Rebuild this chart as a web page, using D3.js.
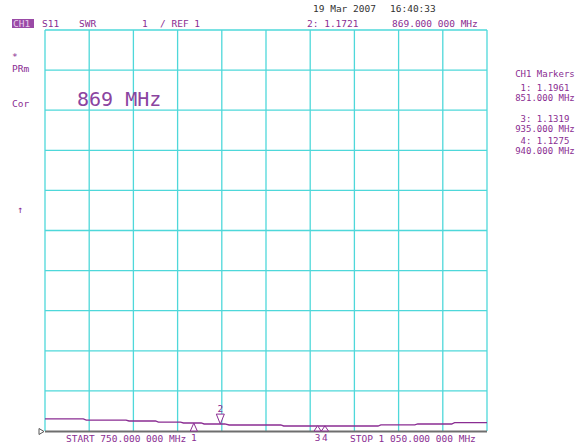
<!DOCTYPE html>
<html lang="en">
	<head>
		<meta charset="utf-8">
		<title>S11 SWR</title>
		<script type="text/javascript" src="https://cdn.jsdelivr.net/npm/d3@7"></script>
		<style type="text/css">
			body { margin: 0; background: #fff; }
			text { font-family: "DejaVu Sans Mono", monospace; }
		</style>
	</head>
	<body>
		<script type="text/javascript">

			//Width and height
			var w = 582;
			var h = 447;

			//Trace data (frequency in MHz, SWR)
			var freq = [750, 776, 778, 805, 807, 825, 827, 842, 844, 856, 858, 872, 875, 910, 912, 976, 978, 1001, 1003, 1026, 1028, 1050];
			var swr = [1.30, 1.30, 1.27, 1.27, 1.25, 1.25, 1.22, 1.22, 1.20, 1.20, 1.175, 1.175, 1.15, 1.15, 1.125, 1.125, 1.155, 1.155, 1.175, 1.175, 1.21, 1.21];

			//Markers
			var markerNum = [1, 2, 3, 4];
			var markerFreq = [851, 869, 935, 940];
			var markerVal = [1.1961, 1.1721, 1.1319, 1.1275];
			var activeMarker = 2;

			//Grid ticks
			var xTicks = [750, 780, 810, 840, 870, 900, 930, 960, 990, 1020, 1050];
			var yTicks = [1, 2, 3, 4, 5, 6, 7, 8, 9, 10, 11];

			var purple = "#8a2d92";
			var cyan = "#4ed8da";

			//Scales
			var xScale = d3.scaleLinear()
						   .domain([750, 1050])
						   .range([45, 487]);

			var yScale = d3.scaleLinear()
						   .domain([1, 11])
						   .range([431, 30]);

			//Create SVG element
			var svg = d3.select("body")
						.append("svg")
						.attr("width", w)
						.attr("height", h);

			//Vertical grid lines
			svg.selectAll("line.vgrid")
			   .data(xTicks)
			   .enter()
			   .append("line")
			   .attr("class", "vgrid")
			   .attr("x1", function(d) { return xScale(d); })
			   .attr("x2", function(d) { return xScale(d); })
			   .attr("y1", yScale(11))
			   .attr("y2", yScale(1))
			   .attr("stroke", cyan)
			   .attr("stroke-width", 1.3);

			//Horizontal grid lines
			svg.selectAll("line.hgrid")
			   .data(yTicks.slice(1))
			   .enter()
			   .append("line")
			   .attr("class", "hgrid")
			   .attr("x1", xScale(750))
			   .attr("x2", xScale(1050))
			   .attr("y1", function(d) { return yScale(d); })
			   .attr("y2", function(d) { return yScale(d); })
			   .attr("stroke", cyan)
			   .attr("stroke-width", 1.3);

			//Bottom reference line
			svg.append("line")
			   .attr("x1", xScale(750))
			   .attr("x2", xScale(1050))
			   .attr("y1", yScale(1) + 0.5)
			   .attr("y2", yScale(1) + 0.5)
			   .attr("stroke", "#6e6e6e")
			   .attr("stroke-width", 2);

			//Reference position pointer
			var rx = xScale(750), ry = yScale(1) + 0.5;
			svg.append("path")
			   .attr("d", "M" + (rx - 6) + "," + (ry - 3) + " L" + (rx - 1) + "," + ry + " L" + (rx - 6) + "," + (ry + 3) + " Z")
			   .attr("fill", "none")
			   .attr("stroke", "#555")
			   .attr("stroke-width", 1);

			//Trace
			var line = d3.line()
						 .x(function(d, i) { return xScale(freq[i]); })
						 .y(function(d) { return yScale(d); });

			svg.append("path")
			   .datum(swr)
			   .attr("d", line)
			   .attr("fill", "none")
			   .attr("stroke", purple)
			   .attr("stroke-width", 1.3);

			//Marker triangles
			markerNum.forEach(function(n, i) {
				var mx = xScale(markerFreq[i]);
				var my = yScale(markerVal[i]);
				if (n == activeMarker) {
					svg.append("path")
					   .attr("d", "M" + (mx - 4) + "," + (my - 10) + " L" + (mx + 4) + "," + (my - 10) + " L" + mx + "," + my + " Z")
					   .attr("fill", "#fff")
					   .attr("stroke", purple)
					   .attr("stroke-width", 1);
					svg.append("text")
					   .attr("x", mx)
					   .attr("y", my - 12)
					   .attr("text-anchor", "middle")
					   .attr("font-size", "9.5px")
					   .attr("fill", purple)
					   .text(n);
				} else {
					svg.append("path")
					   .attr("d", "M" + (mx - 3.5) + "," + (yScale(1)) + " L" + mx + "," + my + " L" + (mx + 3.5) + "," + (yScale(1)) + " Z")
					   .attr("fill", "#fff")
					   .attr("stroke", purple)
					   .attr("stroke-width", 1);
					svg.append("text")
					   .attr("x", mx)
					   .attr("y", yScale(1) + 10)
					   .attr("text-anchor", "middle")
					   .attr("font-size", "9.5px")
					   .attr("fill", purple)
					   .text(n);
				}
			});

			//Channel box
			svg.append("rect")
			   .attr("x", 12)
			   .attr("y", 19)
			   .attr("width", 22)
			   .attr("height", 9)
			   .attr("fill", "#9a4aa6");
			svg.append("text")
			   .attr("x", 13)
			   .attr("y", 27)
			   .attr("font-size", "9.5px")
			   .attr("fill", "#e8d0ec")
			   .text("CH1");

			//Header texts
			var headerText = [
				["S11", 42, 27, purple],
				["SWR", 79, 27, purple],
				["1", 142, 27, purple],
				["/ REF 1", 160, 27, purple],
				["19 Mar 2007", 313, 12, "#333"],
				["16:40:33", 390, 12, "#333"],
				["2: 1.1721", 307, 27, purple],
				["869.000 000 MHz", 392, 27, purple],
				["*", 12, 60, purple],
				["PRm", 12, 72, purple],
				["Cor", 12, 107, purple],
				["START 750.000 000 MHz", 66, 442, purple],
				["STOP 1 050.000 000 MHz", 350, 442, purple]
			];

			svg.selectAll("text.hdr")
			   .data(headerText)
			   .enter()
			   .append("text")
			   .attr("class", "hdr")
			   .attr("x", function(d) { return d[1]; })
			   .attr("y", function(d) { return d[2]; })
			   .attr("fill", function(d) { return d[3]; })
			   .attr("font-size", "9.5px")
			   .attr("xml:space", "preserve")
			   .text(function(d) { return d[0]; });

			//Scale arrow
			svg.append("text")
			   .attr("x", 20)
			   .attr("y", 213)
			   .attr("text-anchor", "middle")
			   .attr("font-size", "10px")
			   .attr("fill", purple)
			   .text("\u2191");

			//Big frequency annotation
			svg.append("text")
			   .attr("x", 77)
			   .attr("y", 106)
			   .attr("font-size", "20px")
			   .attr("fill", "#8a44a0")
			   .attr("xml:space", "preserve")
			   .text("869 MHz");

			//Marker table on the right
			var tableText = ["CH1 Markers"];
			markerNum.forEach(function(n, i) {
				if (n == activeMarker) return;
				tableText.push(n + ": " + d3.format(".4f")(markerVal[i]));
				tableText.push(d3.format(".3f")(markerFreq[i]) + " MHz");
			});
			var tableY = [77, 91, 101, 122, 132, 144, 154];

			svg.selectAll("text.mk")
			   .data(tableText)
			   .enter()
			   .append("text")
			   .attr("class", "mk")
			   .attr("x", 545)
			   .attr("y", function(d, i) { return tableY[i]; })
			   .attr("text-anchor", "middle")
			   .attr("font-size", "9px")
			   .attr("fill", purple)
			   .text(function(d) { return d; });

		</script>
	</body>
</html>
